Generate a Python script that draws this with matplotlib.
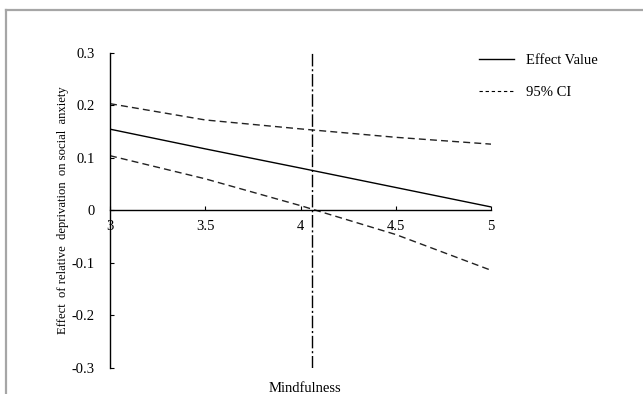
import matplotlib
matplotlib.use("Agg")
import matplotlib.pyplot as plt
from matplotlib.lines import Line2D

# Data
mindfulness = [3.0, 3.5, 4.0, 4.5, 5.0]
effect = [0.1545, 0.117, 0.0805, 0.0435, 0.0065]
ci_upper = [0.203, 0.172, 0.155, 0.139, 0.126]
ci_lower = [0.104, 0.060, 0.009, -0.046, -0.114]
jn_point = 4.06
x_ticks = [3, 3.5, 4, 4.5, 5]
x_ticklabels = ["3", "3.5", "4", "4.5", "5"]
y_ticks = [-0.3, -0.2, -0.1, 0, 0.1, 0.2, 0.3]
y_ticklabels = ["-0.3", "-0.2", "-0.1", "0", "0.1", "0.2", "0.3"]
legend_labels = ["Effect Value", "95% CI"]

plt.rcParams['font.family'] = ['Liberation Serif', 'DejaVu Serif']

W, H = 643, 394
fig = plt.figure(figsize=(W / 100, H / 100), dpi=100)
ax = fig.add_axes([110 / W, 1 - 368 / H, (491 - 110) / W, (368 - 52.7) / H])

ax.plot(mindfulness, effect, color='black', lw=1.0, solid_capstyle='butt')
ax.plot(mindfulness, ci_upper, color='#222222', lw=1.0, linestyle=(0, (5, 3)))
ax.plot(mindfulness, ci_lower, color='#222222', lw=1.0, linestyle=(0, (5, 3)))
ax.plot([jn_point, jn_point], [-0.3, 0.3], color='black', lw=1.0,
        linestyle=(0, (9, 2, 1.5, 2)))

ax.set_xlim(3, 5)
ax.set_ylim(-0.3, 0.3)
for s in ['top', 'right']:
    ax.spines[s].set_visible(False)
ax.spines['bottom'].set_position(('data', 0))
ax.spines['left'].set_position(('data', 3))
for s in ['left', 'bottom']:
    ax.spines[s].set_linewidth(1.0)

ax.set_xticks(x_ticks)
ax.set_xticklabels(x_ticklabels)
ax.set_yticks(y_ticks)
ax.set_yticklabels(y_ticklabels)
ax.tick_params(axis='both', direction='in', length=3, width=0.8, labelsize=10.5,
               colors='black')
ax.tick_params(axis='y', pad=11)
ax.tick_params(axis='x', pad=7)

fig.text(63 / W, 1 - 210 / H,
         "Effect  of relative  deprivation  on social  anxiety",
         rotation=90, ha='center', va='center', fontsize=9.1)
fig.text(305 / W, 1 - 388 / H, "Mindfulness", ha='center', va='center',
         fontsize=10.5)

handles = [Line2D([], [], color='black', lw=1.0),
           Line2D([], [], color='black', lw=0.8, linestyle=(0, (3, 2.5)))]
fig.legend(handles, legend_labels, loc='upper left',
           bbox_to_anchor=(479 / W, 1 - 54 / H), bbox_transform=fig.transFigure,
           frameon=False, fontsize=10.5, handlelength=2.4, handletextpad=0.8,
           labelspacing=1.25, borderpad=0, borderaxespad=0)

# gray frame
fig.add_artist(Line2D([6 / W, 1], [1 - 10 / H, 1 - 10 / H], color='#a6a6a6',
                      lw=1.6, transform=fig.transFigure))
fig.add_artist(Line2D([6 / W, 6 / W], [0, 1 - 10 / H], color='#a6a6a6',
                      lw=1.6, transform=fig.transFigure))

fig.savefig("out.png", dpi=100)
